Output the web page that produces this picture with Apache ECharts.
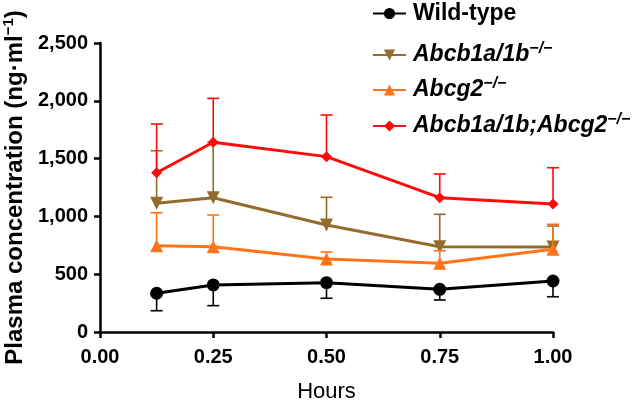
<!DOCTYPE html>
<html>
<head>
<meta charset="utf-8">
<script src="https://cdn.jsdelivr.net/npm/echarts@6/dist/echarts.min.js"></script>
<style>html,body{margin:0;padding:0;background:#fff;}#c{width:639px;height:402px;}</style>
</head>
<body>
<div id="c"></div>
<script>
const hours = [0.125, 0.25, 0.5, 0.75, 1.0];
const xTicks = [0, 0.25, 0.5, 0.75, 1.0];
const yTicks = [0, 500, 1000, 1500, 2000, 2500];

const wildType = [335, 407, 427, 369, 441];
const wildTypeErrEnd = [184, 228, 292, 277, 305];
const abcb1 = [1113, 1162, 926, 738, 735];
const abcb1ErrEnd = [1568, 1640, 1165, 1018, 917];
const abcg2 = [747, 738, 631, 594, 715];
const abcg2ErrEnd = [1032, 1012, 692, 703, 932];
const combined = [1378, 1641, 1517, 1162, 1107];
const combinedErrEnd = [1799, 2021, 1877, 1367, 1421];

const seriesNames = ['Wild-type', 'Abcb1a/1b\u2212/\u2212', 'Abcg2\u2212/\u2212', 'Abcb1a/1b;Abcg2\u2212/\u2212'];
const legendLabels = {
  'Wild-type': '{b|Wild-type}',
  'Abcb1a/1b\u2212/\u2212': '{i|Abcb1a/1b}{s|\u2212/\u2212}',
  'Abcg2\u2212/\u2212': '{i|Abcg2}{s|\u2212/\u2212}',
  'Abcb1a/1b;Abcg2\u2212/\u2212': '{i|Abcb1a/1b;Abcg2}{s|\u2212/\u2212}'
};
const colors = ['#000000', '#946B2D', '#FF7418', '#FF0A0A'];
const symbols = ['circle', 'triangle', 'triangle', 'diamond'];
const symbolSizes = [13, 13, 13, 11];
const symbolRotates = [0, 180, 0, 0];
const values = [wildType, abcb1, abcg2, combined];
const errEnds = [wildTypeErrEnd, abcb1ErrEnd, abcg2ErrEnd, combinedErrEnd];
const legendCenters = [16, 55, 90, 126];
const zOrder = [2, 3, 4, 5];

const FONT = 'Liberation Sans, Arial, sans-serif';

const chart = echarts.init(document.getElementById('c'), null, {renderer: 'canvas'});

const series = [];
values.forEach((vals, k) => {
  series.push({
    type: 'custom',
    name: seriesNames[k] + '_err',
    z: zOrder[k],
    silent: true,
    data: hours.map((h, i) => [h, vals[i], errEnds[k][i]]),
    encode: {x: 0, y: [1, 2]},
    renderItem: function (params, api) {
      const p = api.coord([api.value(0), api.value(1)]);
      const e = api.coord([api.value(0), api.value(2)]);
      const st = {stroke: colors[k], lineWidth: 1.6};
      return {
        type: 'group',
        children: [
          {type: 'line', shape: {x1: p[0], y1: p[1], x2: e[0], y2: e[1]}, style: st},
          {type: 'line', shape: {x1: e[0] - 6, y1: e[1], x2: e[0] + 6, y2: e[1]}, style: st}
        ]
      };
    }
  });
  series.push({
    type: 'line',
    name: seriesNames[k],
    z: zOrder[k],
    data: hours.map((h, i) => [h, vals[i]]),
    symbol: symbols[k],
    symbolSize: symbolSizes[k],
    symbolRotate: symbolRotates[k],
    showAllSymbol: true,
    lineStyle: {color: colors[k], width: 3},
    itemStyle: {color: colors[k]},
    emphasis: {disabled: true}
  });
});

const legends = seriesNames.map((n, k) => ({
  data: [n],
  left: 372,
  top: legendCenters[k] - 14,
  orient: 'vertical',
  padding: 0,
  itemWidth: 33,
  itemHeight: 14,
  selectedMode: false,
  formatter: name => legendLabels[name],
  textStyle: {
    rich: {
      b: {fontFamily: FONT, fontSize: 23, fontWeight: 'bold', color: '#000', lineHeight: 28, padding: [0, 0, 0, 2]},
      i: {fontFamily: FONT, fontSize: 23, fontWeight: 'bold', fontStyle: 'italic', color: '#000', lineHeight: 28, padding: [0, 0, 0, 2]},
      s: {fontFamily: FONT, fontSize: 16, fontWeight: 'bold', fontStyle: 'italic', color: '#000', lineHeight: 16, verticalAlign: 'top'}
    }
  }
}));

chart.setOption({
  animation: false,
  backgroundColor: '#fff',
  color: colors,
  grid: {left: 100, right: 86, top: 43, bottom: 70, containLabel: false, outerBoundsMode: 'none'},
  legend: legends,
  xAxis: {
    type: 'value',
    min: xTicks[0],
    max: xTicks[xTicks.length - 1],
    interval: 0.25,
    name: 'Hours',
    nameLocation: 'middle',
    nameGap: 49,
    nameTextStyle: {fontFamily: FONT, fontSize: 22, color: '#000'},
    axisLine: {lineStyle: {color: '#000', width: 2.5}},
    axisTick: {show: true, length: 6, lineStyle: {color: '#000', width: 2.5}},
    axisLabel: {fontFamily: FONT, fontSize: 20, fontWeight: 'bold', color: '#000', margin: 15,
      formatter: v => v.toFixed(2)},
    splitLine: {show: false}
  },
  yAxis: {
    type: 'value',
    min: yTicks[0],
    max: yTicks[yTicks.length - 1],
    interval: 500,
    name: '{t|Plasma concentration (ng\u00b7ml}{s|\u22121}{t|)}',
    nameLocation: 'middle',
    nameGap: 66,
    nameRotate: 90,
    nameTextStyle: {
      rich: {
        t: {fontFamily: FONT, fontSize: 24, fontWeight: 'bold', color: '#000', lineHeight: 28},
        s: {fontFamily: FONT, fontSize: 15, fontWeight: 'bold', color: '#000', lineHeight: 15, verticalAlign: 'top'}
      }
    },
    axisLine: {show: true, lineStyle: {color: '#000', width: 2.5}},
    axisTick: {show: true, length: 6, lineStyle: {color: '#000', width: 2.5}},
    axisLabel: {fontFamily: FONT, fontSize: 20, fontWeight: 'bold', color: '#000', margin: 12,
      formatter: v => v.toLocaleString('en-US')},
    splitLine: {show: false}
  },
  series: series
});
</script>
</body>
</html>
